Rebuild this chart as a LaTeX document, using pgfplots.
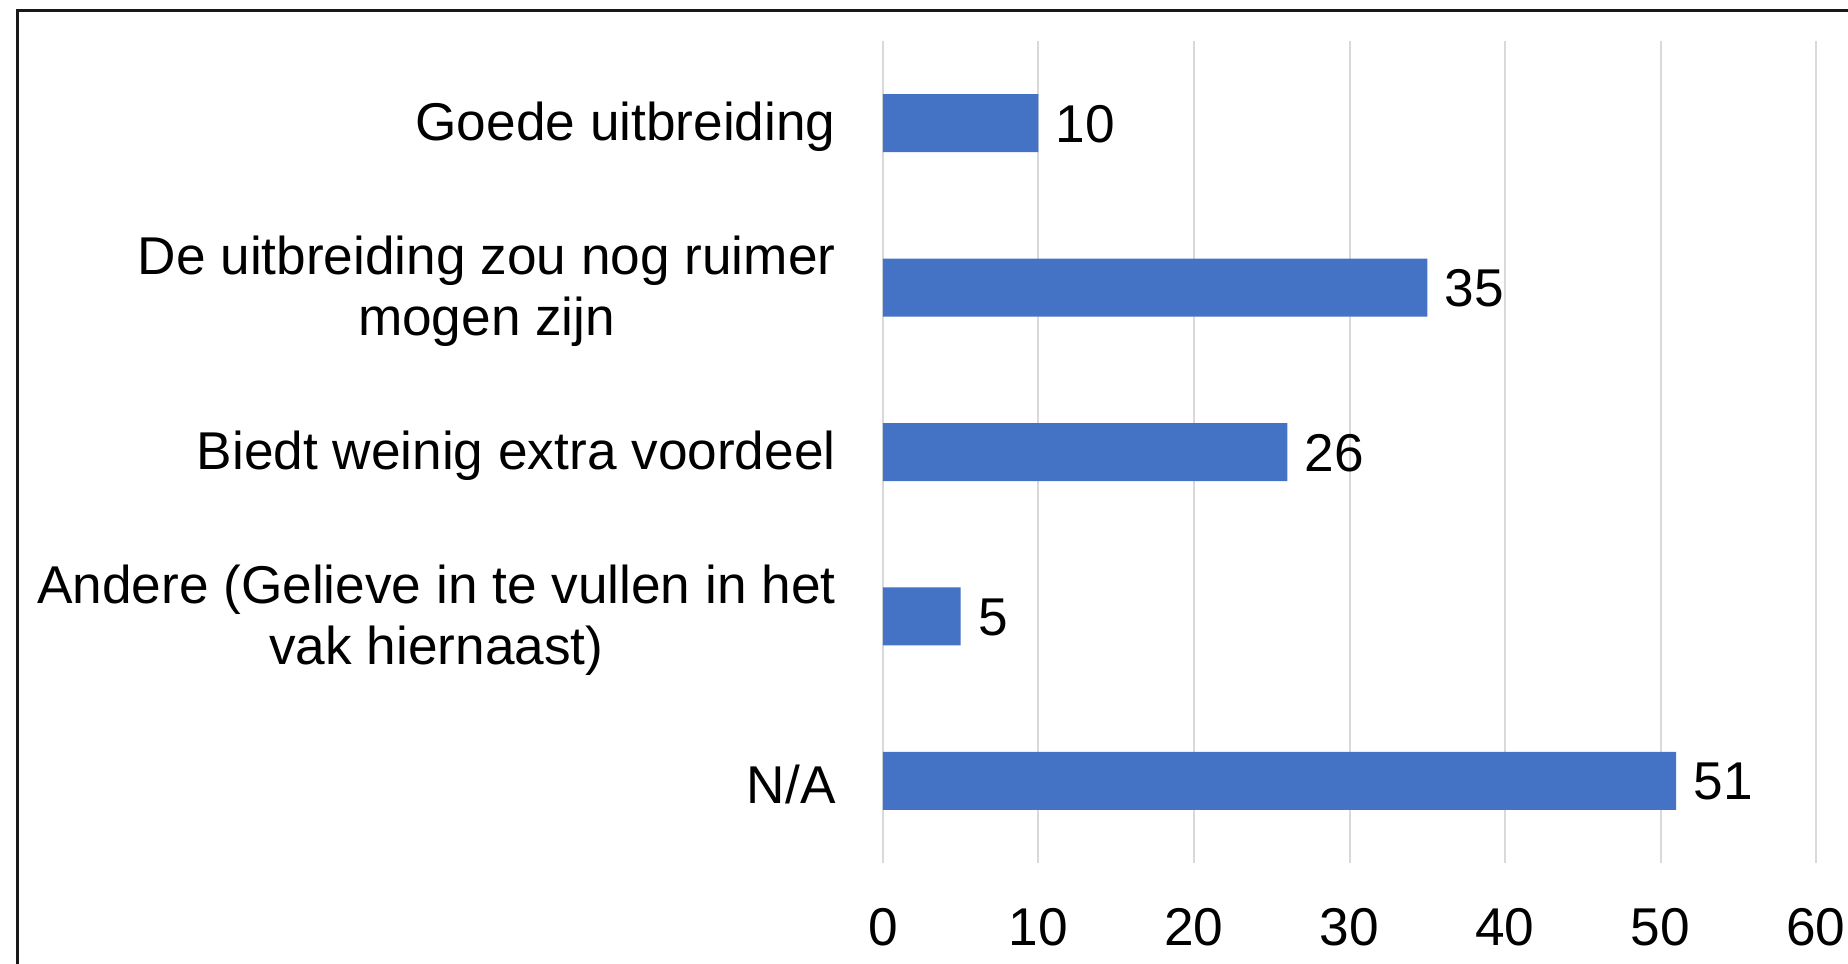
\documentclass[border=0pt]{standalone}
\usepackage{pgfplots}
\pgfplotsset{compat=1.18}
\usepackage{fontspec}
\setmainfont{Liberation Sans}
\definecolor{barblue}{HTML}{4472C4}
\definecolor{gridgray}{HTML}{D9D9D9}
\newcommand{\chartfont}{\fontsize{26.6pt}{30.5pt}\selectfont}
\begin{document}
\begin{tikzpicture}
% canvas: 1 px = 0.5 pt
\useasboundingbox (0,0) rectangle (924pt,482pt);
% outer frame (only top and left edges fall inside the canvas)
\draw[line width=1.5pt, color=black!90] (8.75pt,-20pt) rectangle (960pt,476.5pt);
\begin{axis}[
  at={(441.5pt,50.5pt)}, anchor=south west,
  scale only axis,
  width=466.5pt, height=411pt,
  xbar, bar width=29pt,
  xmin=0, xmax=60,
  xtick={0,10,...,60},
  ymin=-0.5, ymax=4.5,
  y dir=reverse,
  ytick={0,1,2,3,4},
  yticklabels={
    Goede uitbreiding,
    {De uitbreiding zou nog ruimer\\mogen zijn},
    Biedt weinig extra voordeel,
    {Andere (Gelieve in te vullen in het\\vak hiernaast)},
    N/A},
  axis line style={draw=none},
  major tick length=0pt,
  xmajorgrids,
  grid style={color=gridgray, line width=1pt},
  /pgf/number format/assume math mode=true,
  ticklabel style={font=\chartfont, text=black},
  xticklabel style={inner sep=0pt, anchor=north, yshift=-22.5pt},
  yticklabel style={inner sep=0pt, anchor=east, align=center, xshift=-23.5pt, yshift=-1.75pt},
  nodes near coords,
  nodes near coords style={font=\chartfont, text=black, anchor=west, inner sep=0pt, xshift=8.5pt, yshift=-0.5pt},
  point meta=explicit symbolic,
  clip=false,
]
\addplot[fill=barblue, draw=none] coordinates {
  (10,0) [10]
  (35,1) [35]
  (26,2) [26]
  (5,3)  [5]
  (51,4) [51]
};
\end{axis}
\end{tikzpicture}
\end{document}
